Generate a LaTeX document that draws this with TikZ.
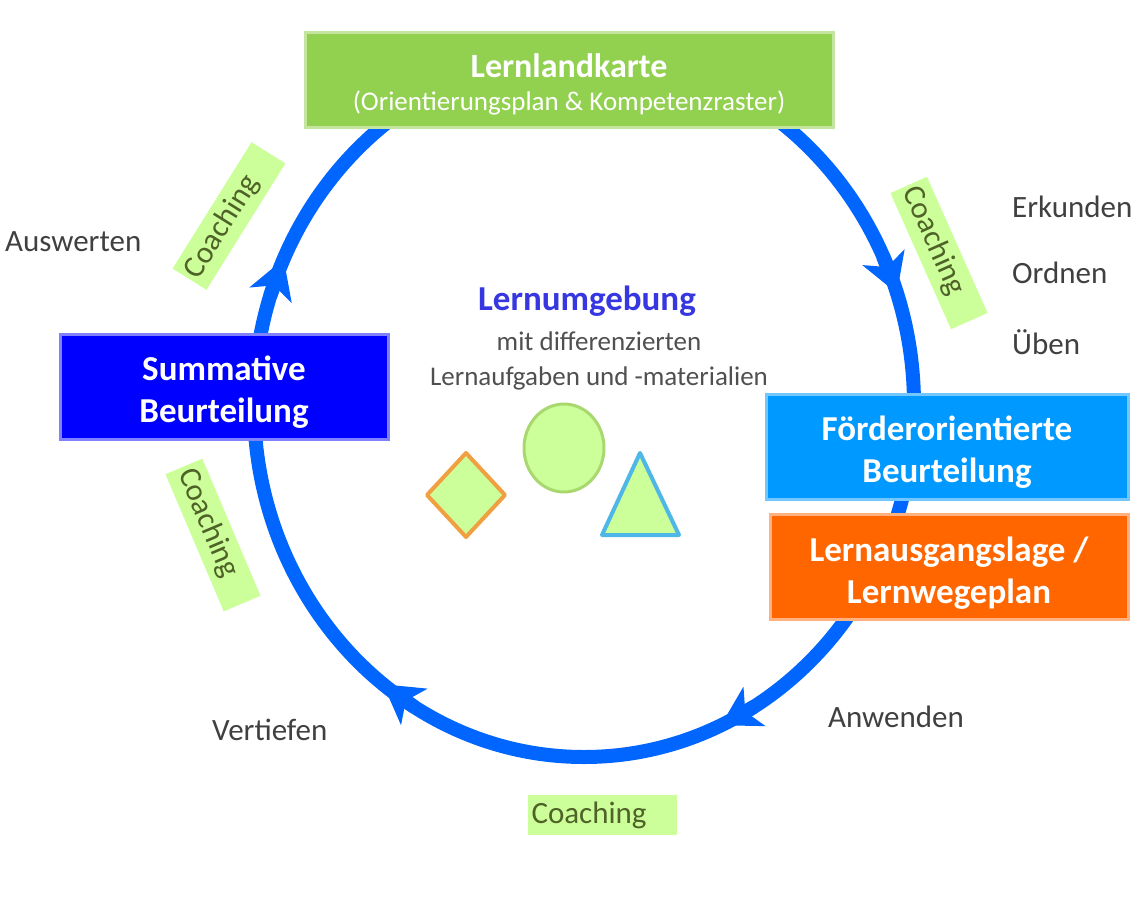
\documentclass[tikz,border=0pt]{standalone}
\usepackage{fontspec}
\setmainfont{Carlito}
\usetikzlibrary{arrows.meta}
\definecolor{ringblue}{RGB}{0,102,255}
\definecolor{llgreen}{RGB}{146,208,80}
\definecolor{sumblue}{RGB}{0,0,255}
\definecolor{foerdblue}{RGB}{0,153,255}
\definecolor{lorange}{RGB}{255,102,0}
\definecolor{coachbg}{RGB}{204,255,153}
\definecolor{coachtext}{RGB}{79,98,40}
\definecolor{lumtext}{RGB}{55,55,225}
\definecolor{phrase}{RGB}{64,64,64}
\definecolor{subgray}{RGB}{80,80,80}
\definecolor{circborder}{RGB}{169,216,110}
\definecolor{diaborder}{RGB}{240,160,64}
\definecolor{triborder}{RGB}{77,184,232}
\begin{document}
\begin{tikzpicture}[x=1pt,y=-1pt,
  boxshape/.style={inner sep=0pt, line width=3pt},
  boxtext/.style={inner sep=0pt, text=white, align=center,
    font=\fontsize{35}{42}\selectfont\bfseries},
  coach/.style={fill=coachbg, text=coachtext, text width=141pt, align=left,
    inner xsep=4pt, inner ysep=0pt, minimum height=40pt,
    font=\fontsize{31}{34}\selectfont},
  phrase/.style={text=phrase, font=\fontsize{31}{34}\selectfont, inner sep=0pt},
  ring/.style={ringblue, line width=14pt},
  ringarrow/.style={ring, -{Stealth[length=38pt,width=44pt,inset=10pt]}},
  figshape/.style={fill=coachbg, line width=4pt}
]
\useasboundingbox (0,0) rectangle (1140,897);
\fill[white] (0,0) rectangle (1140,897);

% cycle ring
\draw[ring] (584,405) ellipse [x radius=330, y radius=352];
\foreach \t in {22,159,-62,-124}{
  \draw[ringarrow] ({584+330*cos(\t+3)},{405-352*sin(\t+3)}) -- ({584+330*cos(\t-3.5)},{405-352*sin(\t-3.5)});
}

% boxes
\node[boxshape, fill=llgreen, draw=llgreen!55!white, minimum width=528pt, minimum height=95pt] (llk) at (569,80) {};
\node[boxtext, font=\fontsize{34}{40}\selectfont\bfseries] (llkt) at (569,66) {Lernlandkarte};
\node[boxtext, font=\fontsize{27}{30}\selectfont] (llks) at (569,103) {(Orientierungsplan \& Kompetenzraster)};

\node[boxshape, fill=sumblue, draw=sumblue!50!white, minimum width=328pt, minimum height=105pt] (sum) at (224,387) {};
\node[boxtext] (sumt) at (224,392) {Summative\\Beurteilung};

\node[boxshape, fill=foerdblue, draw=foerdblue!55!white, minimum width=362pt, minimum height=105pt] (foerd) at (947,447) {};
\node[boxtext] (foerdt) at (947,452) {Förderorientierte\\Beurteilung};

\node[boxshape, fill=lorange, draw=lorange!50!white, minimum width=358pt, minimum height=105pt] (lage) at (949,567) {};
\node[boxtext] (laget) at (949,573) {Lernausgangslage /\\Lernwegeplan};

% coaching labels
\node[coach, rotate=58] (c1) at (229,216) {Coaching};
\node[coach, rotate=-66] (c2) at (939,253) {Coaching};
\node[coach, rotate=-67] (c3) at (213,535) {Coaching};
\node[coach] (c4) at (602,815) {Coaching};

% phrases
\node[phrase, anchor=west] (ausw) at (5,242) {Auswerten};
\node[phrase, anchor=west] (erk) at (1012,207) {Erkunden};
\node[phrase, anchor=west] (ord) at (1012,273) {Ordnen};
\node[phrase, anchor=west] (ueb) at (1012,342) {Üben};
\node[phrase, anchor=west] (vert) at (212,730) {Vertiefen};
\node[phrase, anchor=west] (anw) at (828,717) {Anwenden};

% centre
\node[text=lumtext, font=\fontsize{35}{40}\selectfont\bfseries, inner sep=0pt] (lum) at (587,301) {Lernumgebung};
\node[text=subgray, font=\fontsize{27}{35}\selectfont, align=center, inner sep=0pt] (lumsub) at (599,361)
  {mit differenzierten\\Lernaufgaben und -materialien};

% shapes
\draw[figshape, draw=circborder, line width=3pt] (564,448) ellipse [x radius=40, y radius=44];
\draw[figshape, draw=diaborder, line join=round] (466,453) -- (505,495) -- (466,537) -- (427,495) -- cycle;
\draw[figshape, draw=triborder, line join=round] (640,453) -- (679,535) -- (602,535) -- cycle;
\end{tikzpicture}
\end{document}
